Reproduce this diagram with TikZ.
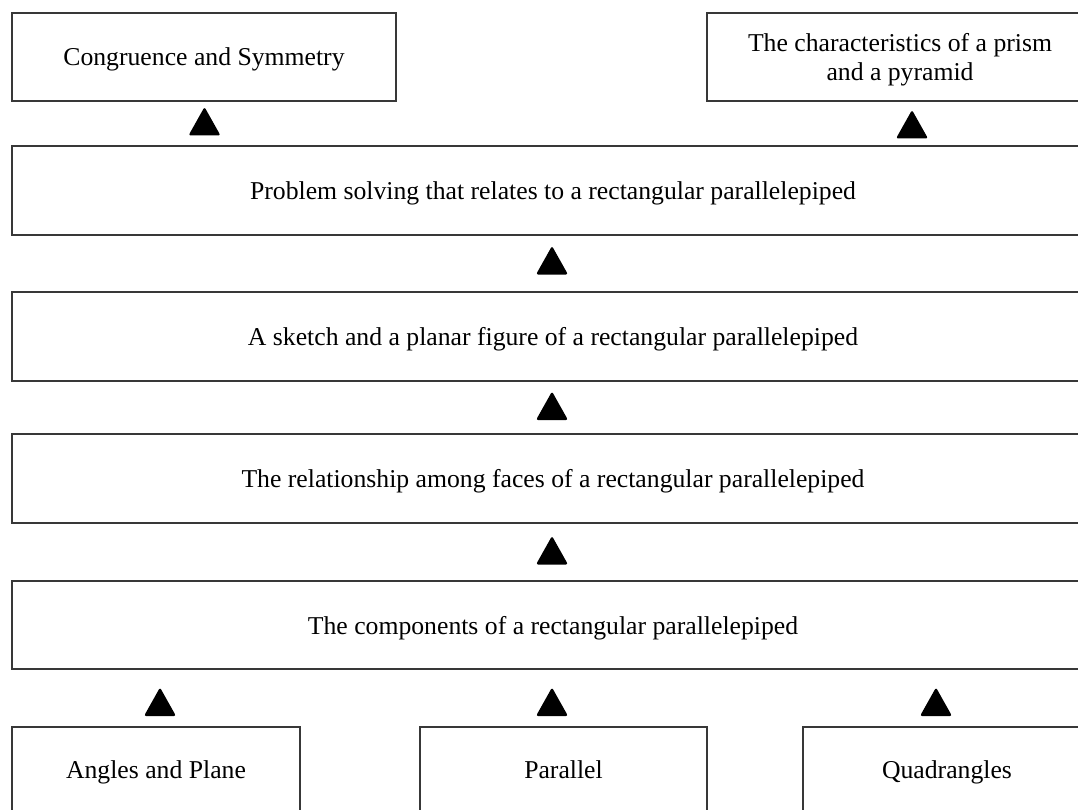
\documentclass[tikz,border=0pt]{standalone}
\usepackage{fontspec}
\setmainfont{Liberation Serif}
\begin{document}
\begin{tikzpicture}[x=1pt,y=-1pt,
  box/.style={draw=black!78,line width=1.3pt,fill=white,align=center,inner sep=0pt,
    text depth=0pt,font=\fontsize{25.7}{29}\selectfont,text=black},
  tri/.style={fill=black,rounded corners=2.2pt}]
\clip (0,0) rectangle (1078,810);
\fill[white] (0,0) rectangle (1078,810);
% top boxes
\node[box,minimum width=384,minimum height=88] (cong) at (204,57) {Congruence and Symmetry};
\node[box,minimum width=386,minimum height=88] (prism) at (900,57) {The characteristics of a prism\\and a pyramid};
% wide boxes
\node[box,minimum width=1082,minimum height=89] (prob) at (553,190.5) {Problem solving that relates to a rectangular parallelepiped};
\node[box,minimum width=1082,minimum height=89] (sketch) at (553,336.5) {A sketch and a planar figure of a rectangular parallelepiped};
\node[box,minimum width=1082,minimum height=89] (rel) at (553,478.5) {The relationship among faces of a rectangular parallelepiped};
\node[box,minimum width=1082,minimum height=88] (comp) at (553,625) {The components of a rectangular parallelepiped};
% bottom boxes
\node[box,minimum width=288,minimum height=86] (ang) at (156,770) {Angles and Plane};
\node[box,minimum width=287,minimum height=86] (par) at (563.5,770) {Parallel};
\node[box,minimum width=288,minimum height=86] (quad) at (947,770) {Quadrangles};
% triangle markers
\coordinate (t1) at (204.5,121.5);
\coordinate (t2) at (912,124.5);
\coordinate (t3) at (552,260.5);
\coordinate (t4) at (552,406);
\coordinate (t5) at (552,550.5);
\coordinate (t6) at (160,702);
\coordinate (t7) at (552,702);
\coordinate (t8) at (936,702);
\foreach \t in {t1,t2,t3,t4,t5,t6,t7,t8}
  \fill[tri] (\t) ++(-16,14) -- ++(32,0) -- ++(-16,-28.5) -- cycle;
\end{tikzpicture}
\end{document}
